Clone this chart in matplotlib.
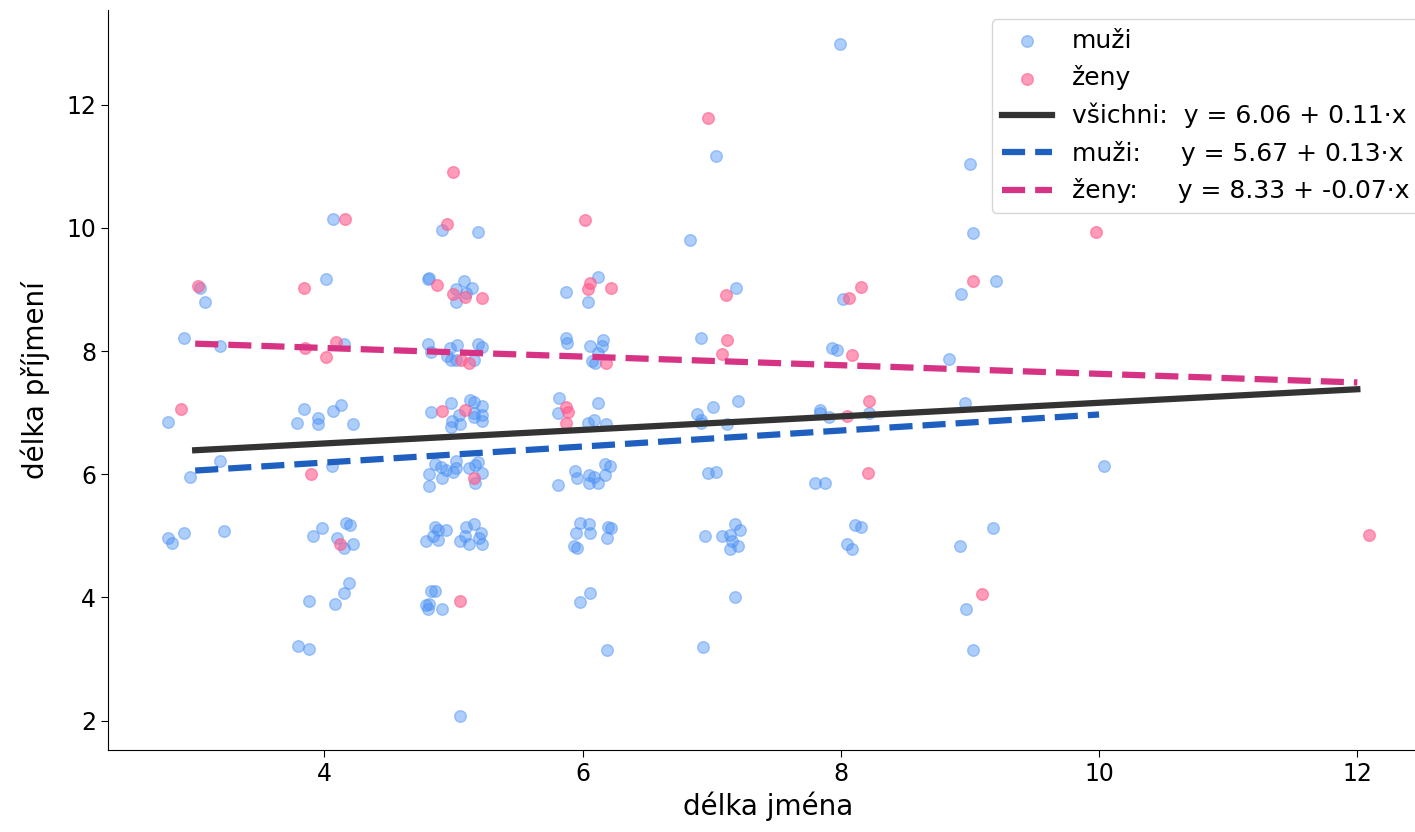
import numpy as np
import matplotlib
matplotlib.use('Agg')
import matplotlib.pyplot as plt

# délka jména (x) a délka příjmení (y), s jitterem
muzi_x = [3.04, 3.08, 2.91, 3.19, 2.79, 3.19, 2.96, 2.79, 2.82, 2.91, 3.22,
          3.80, 3.88, 3.88, 4.08, 4.15, 4.19, 3.91, 3.98, 4.10, 4.17, 4.20, 4.22, 4.15,
          4.06, 3.79, 3.84, 3.95, 3.95, 4.07, 4.13, 4.22, 4.15, 4.01, 4.07,
          4.91, 5.19, 4.80, 4.81, 5.08, 5.02, 5.14, 5.10, 5.02,
          4.80, 4.83, 4.97, 5.03, 4.95, 4.98, 5.02, 5.16, 5.19, 5.22,
          4.83, 4.98, 5.13, 5.16, 5.22, 5.16, 5.22, 5.22, 5.04, 4.99, 4.98, 5.05, 5.16,
          4.86, 4.81, 4.81, 4.90, 4.91, 4.94, 5.02, 5.00, 5.02, 5.12, 5.19, 5.17, 5.22, 5.17,
          4.79, 4.86, 4.88, 4.84, 4.88, 4.94, 5.05, 5.09, 5.10, 5.12, 5.16, 5.21, 5.20, 5.22,
          4.83, 4.86, 4.79, 4.81, 4.80, 4.91, 5.05,
          5.87, 6.12, 6.04, 5.87, 5.88, 6.06, 6.16, 6.15, 6.12, 6.07, 6.10,
          5.82, 5.81, 6.12, 6.04, 6.09, 6.18,
          5.81, 5.94, 5.96, 6.05, 6.05, 6.09, 6.12, 6.17, 6.17, 6.21,
          5.98, 5.95, 6.05, 6.06, 5.93, 5.96, 6.20, 6.22, 6.19,
          5.98, 6.06, 6.19,
          7.03, 6.83, 7.19, 6.92, 6.89, 6.92, 6.92, 7.01, 7.20, 7.12, 6.97, 7.03,
          6.95, 7.08, 7.18, 7.22, 7.14, 7.16, 7.20, 7.14, 7.18, 6.93,
          7.99, 8.02, 7.93, 7.97, 7.84, 7.84, 7.91, 8.22, 7.80, 7.88, 8.11, 8.16, 8.05, 8.09,
          9.00, 9.02, 9.20, 8.93, 8.84, 8.96, 9.18, 8.92, 8.97, 9.02,
          10.04]
muzi_y = [9.02, 8.79, 8.21, 8.08, 6.85, 6.22, 5.96, 4.97, 4.89, 5.04, 5.08,
          3.21, 3.16, 3.95, 3.90, 4.08, 4.23, 4.99, 5.13, 4.97, 5.21, 5.17, 4.87, 4.81,
          6.14, 6.83, 7.06, 6.91, 6.82, 7.03, 7.13, 6.82, 8.11, 9.17, 10.15,
          9.96, 9.94, 9.17, 9.18, 9.13, 9.00, 9.02, 8.94, 8.79,
          8.11, 7.98, 8.05, 8.10, 7.92, 7.85, 7.85, 7.85, 8.11, 8.06,
          7.01, 7.16, 7.21, 7.17, 7.11, 7.00, 6.96, 6.87, 6.96, 6.87, 6.77, 6.82, 6.93,
          6.17, 6.01, 5.81, 6.12, 5.94, 6.07, 6.22, 6.04, 6.10, 6.10, 6.20, 6.15, 6.02, 5.86,
          4.91, 5.15, 5.10, 4.99, 4.94, 5.09, 4.92, 5.00, 5.15, 4.86, 5.20, 5.05, 4.97, 4.86,
          4.10, 4.10, 3.87, 3.90, 3.82, 3.81, 2.07,
          8.96, 9.20, 8.79, 8.21, 8.13, 8.08, 8.18, 8.08, 7.97, 7.84, 7.81,
          7.24, 7.00, 7.16, 6.83, 6.88, 6.82,
          5.83, 6.06, 5.94, 5.99, 5.86, 5.96, 5.86, 6.17, 5.99, 6.14,
          5.21, 5.05, 5.20, 5.05, 4.84, 4.81, 5.15, 5.12, 4.97,
          3.92, 4.08, 3.14,
          11.16, 9.81, 9.02, 8.21, 6.98, 6.88, 6.83, 7.09, 7.19, 6.82, 6.02, 6.04,
          4.99, 4.99, 5.20, 5.09, 5.02, 4.91, 4.83, 4.78, 4.00, 3.19,
          12.99, 8.84, 8.05, 8.02, 7.04, 7.00, 6.93, 7.00, 5.85, 5.85, 5.17, 5.15, 4.86, 4.78,
          11.03, 9.91, 9.13, 8.92, 7.87, 7.16, 5.13, 4.83, 3.82, 3.14,
          6.14]

zeny_x = [3.02, 2.89, 3.84, 4.16, 3.85, 4.09, 4.01, 3.90, 4.12,
          5.00, 4.95, 4.87, 5.00, 5.09, 5.22, 5.06, 5.12, 4.91, 5.09, 5.16, 5.05,
          6.02, 6.04, 6.06, 6.22, 6.18, 5.87, 5.89, 5.87,
          6.97, 7.11, 7.12, 7.08,
          8.06, 8.16, 8.09, 8.05, 8.22, 8.21,
          9.02, 9.09, 9.98, 12.09]
zeny_y = [9.05, 7.06, 9.02, 10.15, 8.05, 8.15, 7.90, 6.01, 4.87,
          10.91, 10.07, 9.07, 8.92, 8.87, 8.86, 7.85, 7.81, 7.03, 7.04, 5.94, 3.94,
          10.12, 9.00, 9.10, 9.02, 7.81, 7.09, 7.01, 6.83,
          11.79, 8.91, 8.18, 7.95,
          8.86, 9.04, 7.94, 6.95, 7.19, 6.02,
          9.13, 4.05, 9.93, 5.02]

# regresní přímky: (úsek, sklon)
fit_all = (6.06, 0.11)
fit_muzi = (5.67, 0.13)
fit_zeny = (8.33, -0.07)

fig = plt.figure(figsize=(14.15, 8.32), dpi=100)
ax = fig.add_axes([108 / 1415, 82 / 832, 1321 / 1415, 740 / 832])

ax.scatter(muzi_x, muzi_y, s=70, color='#4a90f5', alpha=0.45, linewidths=1, label='muži')
ax.scatter(zeny_x, zeny_y, s=70, color='#ff5a8c', alpha=0.6, linewidths=1, label='ženy')

all_x = np.array(muzi_x + zeny_x)
xs = np.array([np.round(all_x.min()), np.round(all_x.max())])
ax.plot(xs, fit_all[0] + fit_all[1] * xs, color='#333333', lw=4.5,
        label=f'všichni:  y = {fit_all[0]:.2f} + {fit_all[1]:.2f}·x')
xs = np.array([np.round(min(muzi_x)), np.round(max(muzi_x))])
ax.plot(xs, fit_muzi[0] + fit_muzi[1] * xs, color='#1f5fbf', lw=4.5, ls='--',
        label=f'muži:     y = {fit_muzi[0]:.2f} + {fit_muzi[1]:.2f}·x')
xs = np.array([np.round(min(zeny_x)), np.round(max(zeny_x))])
ax.plot(xs, fit_zeny[0] + fit_zeny[1] * xs, color='#d63384', lw=4.5, ls='--',
        label=f'ženy:     y = {fit_zeny[0]:.2f} + {fit_zeny[1]:.2f}·x')

ax.set_xlabel('délka jména', fontsize=20)
ax.set_ylabel('délka příjmení', fontsize=20, labelpad=12)
ax.tick_params(labelsize=17, length=5)
ax.spines['top'].set_visible(False)
ax.spines['right'].set_visible(False)

ax.legend(loc='upper right', fontsize=18, bbox_to_anchor=(1.002, 1.005))

fig.savefig('out.png', dpi=100)
